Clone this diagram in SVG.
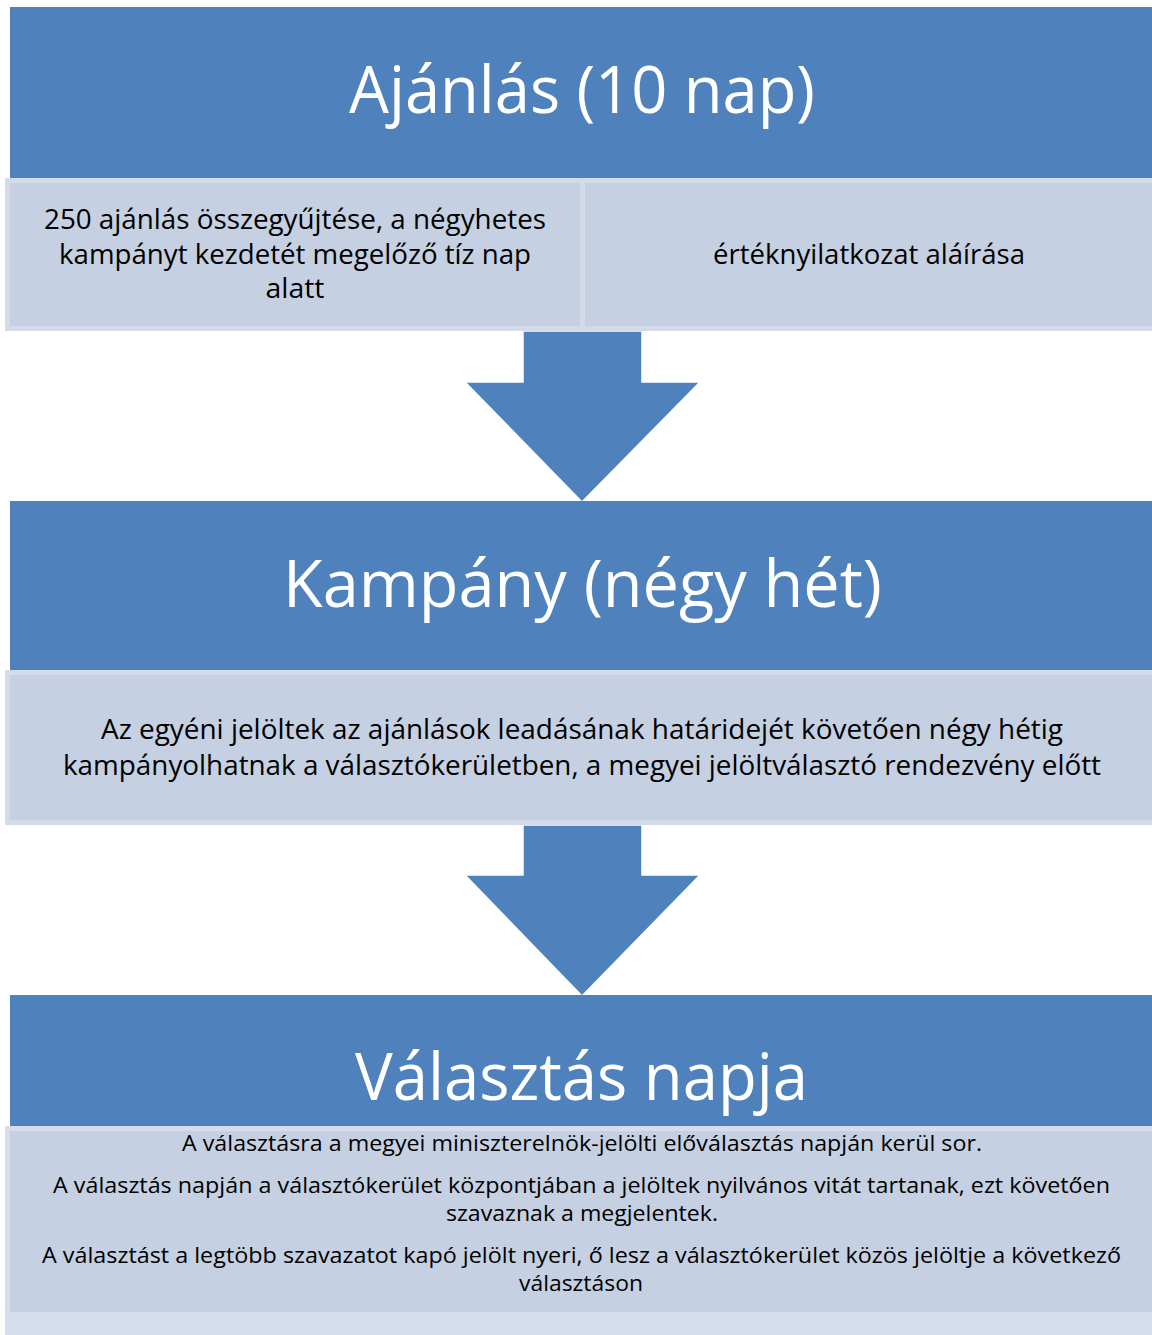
<svg xmlns="http://www.w3.org/2000/svg" width="1152" height="1335" viewBox="0 0 1152 1335">
<style>
.hdr{fill:#4F81BD}
.outer{fill:#D3DBEA}
.inner{fill:#C5D0E3}
.arrow{fill:#4F81BD;stroke:#FFFFFF;stroke-width:1.5}
.ht{font-family:"Open Sans","Liberation Sans",sans-serif;font-size:65px;fill:#FFFFFF;text-anchor:middle}
.st{font-family:"Open Sans","Liberation Sans",sans-serif;font-size:26.5px;fill:#000000;text-anchor:middle}
.bt{font-family:"Open Sans","Liberation Sans",sans-serif;font-size:21px;fill:#000000;text-anchor:middle}
</style>
<rect x="0" y="0" width="1152" height="1335" fill="#FFFFFF"/>
<g id="connectors">
<path class="arrow" d="M523,331 L642,331 L642,382 L700,382 L582,502 L465,382 L523,382 Z"/>
<path class="arrow" d="M523,825 L642,825 L642,875 L700,875 L582,996 L465,875 L523,875 Z"/>
</g>
<g id="node-ajanlas">
<rect class="hdr" x="10" y="7" width="1142" height="171"/>
<text class="ht" x="582" y="113" textLength="466" lengthAdjust="spacingAndGlyphs">Ajánlás (10 nap)</text>
</g>
<g id="node-ajanlas-gyujtes">
<rect class="outer" x="5" y="178" width="580" height="153"/>
<rect class="inner" x="10" y="183" width="570" height="143"/>
<text class="st" x="295" y="229" textLength="502" lengthAdjust="spacingAndGlyphs">250 ajánlás összegyűjtése, a négyhetes</text>
<text class="st" x="295" y="264" textLength="472" lengthAdjust="spacingAndGlyphs">kampányt kezdetét megelőző tíz nap</text>
<text class="st" x="295" y="298" textLength="59" lengthAdjust="spacingAndGlyphs">alatt</text>
</g>
<g id="node-ajanlas-nyilatkozat">
<rect class="outer" x="580" y="178" width="572" height="153"/>
<rect class="inner" x="585" y="183" width="567" height="143"/>
<text class="st" x="869" y="264" textLength="312" lengthAdjust="spacingAndGlyphs">értéknyilatkozat aláírása</text>
</g>
<g id="node-kampany">
<rect class="hdr" x="10" y="501" width="1142" height="169"/>
<text class="ht" x="582.5" y="607" textLength="599" lengthAdjust="spacingAndGlyphs">Kampány (négy hét)</text>
</g>
<g id="node-kampany-leiras">
<rect class="outer" x="5" y="670" width="1147" height="155"/>
<rect class="inner" x="10" y="675" width="1142" height="145"/>
<text class="st" x="582" y="739" textLength="962" lengthAdjust="spacingAndGlyphs">Az egyéni jelöltek az ajánlások leadásának határidejét követően négy hétig</text>
<text class="st" x="582" y="775" textLength="1038" lengthAdjust="spacingAndGlyphs">kampányolhatnak a választókerületben, a megyei jelöltválasztó rendezvény előtt</text>
</g>
<g id="node-valasztas">
<rect class="hdr" x="10" y="995" width="1142" height="131"/>
<text class="ht" x="581.5" y="1100" textLength="453" lengthAdjust="spacingAndGlyphs">Választás napja</text>
</g>
<g id="node-valasztas-leiras">
<rect x="5" y="1126" width="1147" height="209" fill="#D6DDEC"/>
<rect class="inner" x="10" y="1131" width="1142" height="181"/>
<text class="bt" x="582" y="1151" textLength="800" lengthAdjust="spacingAndGlyphs">A választásra a megyei miniszterelnök-jelölti előválasztás napján kerül sor.</text>
<text class="bt" x="581.5" y="1193" textLength="1057" lengthAdjust="spacingAndGlyphs">A választás napján a választókerület központjában a jelöltek nyilvános vitát tartanak, ezt követően</text>
<text class="bt" x="582" y="1221" textLength="272" lengthAdjust="spacingAndGlyphs">szavaznak a megjelentek.</text>
<text class="bt" x="581.5" y="1263" textLength="1079" lengthAdjust="spacingAndGlyphs">A választást a legtöbb szavazatot kapó jelölt nyeri, ő lesz a választókerület közös jelöltje a következő</text>
<text class="bt" x="581" y="1291" textLength="124" lengthAdjust="spacingAndGlyphs">választáson</text>
</g>
</svg>
